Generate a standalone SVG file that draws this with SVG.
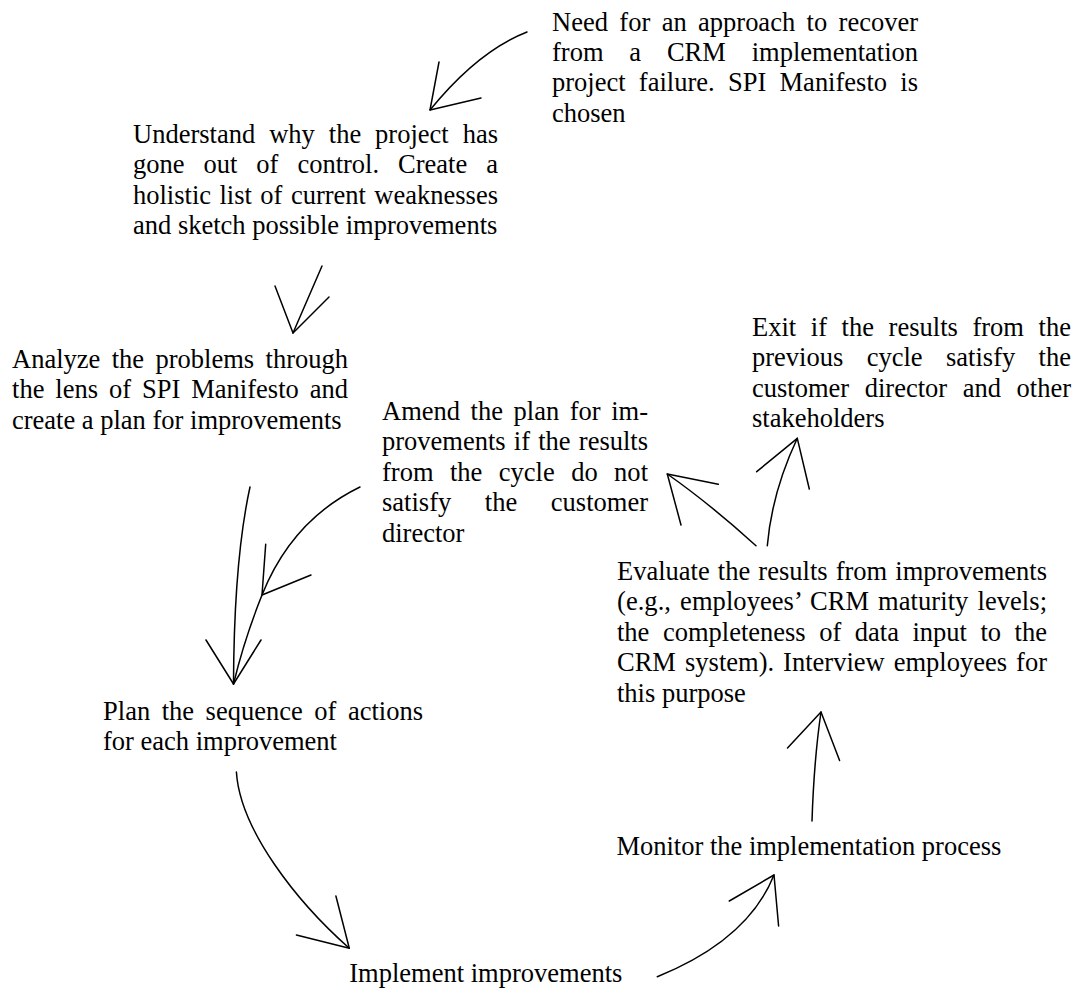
<svg xmlns="http://www.w3.org/2000/svg" width="1078" height="990" viewBox="0 0 1078 990">
<style>
text{font-family:"Liberation Serif","Times New Roman",serif;font-size:26.5px;fill:#000}
.c path,.c polyline{fill:none;stroke:#000;stroke-width:1.5;stroke-linecap:round;stroke-linejoin:round}
</style>
<rect width="1078" height="990" fill="#fff"/>
<g class="c" id="connectors">
<path d="M527,32 Q478,51 430,110"/><polyline points="439,62 430,110 481,98"/>
<path d="M322,266 L293,333"/><polyline points="275,286 293,333 329,297"/>
<path d="M250,487 Q234,560 233.5,684"/><polyline points="206,640 233.5,684 261,640"/>
<path d="M360,487 Q292,520 262,595 Q244,640 233.5,684"/><polyline points="265.7,544.3 262,595 311,575"/>
<path d="M236.4,772 C240,830 297,902 349.3,948.3"/><polyline points="335.9,896 349.3,948.3 296.4,935"/>
<path d="M657.3,976.7 Q748,940 774,875"/><polyline points="729.3,901 774,875 778.6,926"/>
<path d="M812,821 Q814,760 821,712"/><polyline points="787.5,748 821,712 839.6,760.5"/>
<path d="M767.3,545.7 Q772,492 797.3,438.3"/><polyline points="756.7,471.7 797.3,438.3 809.3,489"/>
<path d="M756,545.7 Q710,504 667.3,474"/><polyline points="718.3,484.3 667.3,474 681,525"/>
</g>
<g id="need">
<text x="552" y="30.5" word-spacing="4.8" textLength="366" lengthAdjust="spacing">Need for an approach to recover</text>
<text x="552" y="60.9" word-spacing="19.2" textLength="366" lengthAdjust="spacing">from a CRM implementation</text>
<text x="552" y="91.3" word-spacing="6.7" textLength="366" lengthAdjust="spacing">project failure. SPI Manifesto is</text>
<text x="552" y="121.7">chosen</text>
</g>
<g id="understand">
<text x="133" y="143" word-spacing="7.3" textLength="365" lengthAdjust="spacing">Understand why the project has</text>
<text x="133" y="173.4" word-spacing="12.4" textLength="365" lengthAdjust="spacing">gone out of control. Create a</text>
<text x="133" y="203.8" word-spacing="1.8" textLength="365" lengthAdjust="spacing">holistic list of current weaknesses</text>
<text x="133" y="234.2">and sketch possible improvements</text>
</g>
<g id="analyze">
<text x="12" y="368" word-spacing="4.8" textLength="336" lengthAdjust="spacing">Analyze the problems through</text>
<text x="12" y="398.4" word-spacing="4.3" textLength="336" lengthAdjust="spacing">the lens of SPI Manifesto and</text>
<text x="12" y="428.8">create a plan for improvements</text>
</g>
<g id="amend">
<text x="382" y="420" word-spacing="3.9" textLength="266" lengthAdjust="spacing">Amend the plan for im-</text>
<text x="382" y="450.4" word-spacing="1.6" textLength="266" lengthAdjust="spacing">provements if the results</text>
<text x="382" y="480.8" word-spacing="9.8" textLength="266" lengthAdjust="spacing">from the cycle do not</text>
<text x="382" y="511.2" word-spacing="27" textLength="266" lengthAdjust="spacing">satisfy the customer</text>
<text x="382" y="541.6">director</text>
</g>
<g id="exit">
<text x="752" y="336" word-spacing="8" textLength="319" lengthAdjust="spacing">Exit if the results from the</text>
<text x="752" y="366.4" word-spacing="16.8" textLength="319" lengthAdjust="spacing">previous cycle satisfy the</text>
<text x="752" y="396.8" word-spacing="8.9" textLength="319" lengthAdjust="spacing">customer director and other</text>
<text x="752" y="427.2">stakeholders</text>
</g>
<g id="evaluate">
<text x="617" y="580" word-spacing="1.5" textLength="430" lengthAdjust="spacing">Evaluate the results from improvements</text>
<text x="617" y="610.4" word-spacing="2.4" textLength="430" lengthAdjust="spacing">(e.g., employees’ CRM maturity levels;</text>
<text x="617" y="640.8" word-spacing="6.9" textLength="430" lengthAdjust="spacing">the completeness of data input to the</text>
<text x="617" y="671.2" word-spacing="2.4" textLength="430" lengthAdjust="spacing">CRM system). Interview employees for</text>
<text x="617" y="701.6">this purpose</text>
</g>
<g id="monitor">
<text x="616.4" y="855">Monitor the implementation process</text>
</g>
<g id="plan">
<text x="103" y="720" word-spacing="4.9" textLength="320" lengthAdjust="spacing">Plan the sequence of actions</text>
<text x="103" y="750.4">for each improvement</text>
</g>
<g id="implement">
<text x="349.3" y="982">Implement improvements</text>
</g>
</svg>
